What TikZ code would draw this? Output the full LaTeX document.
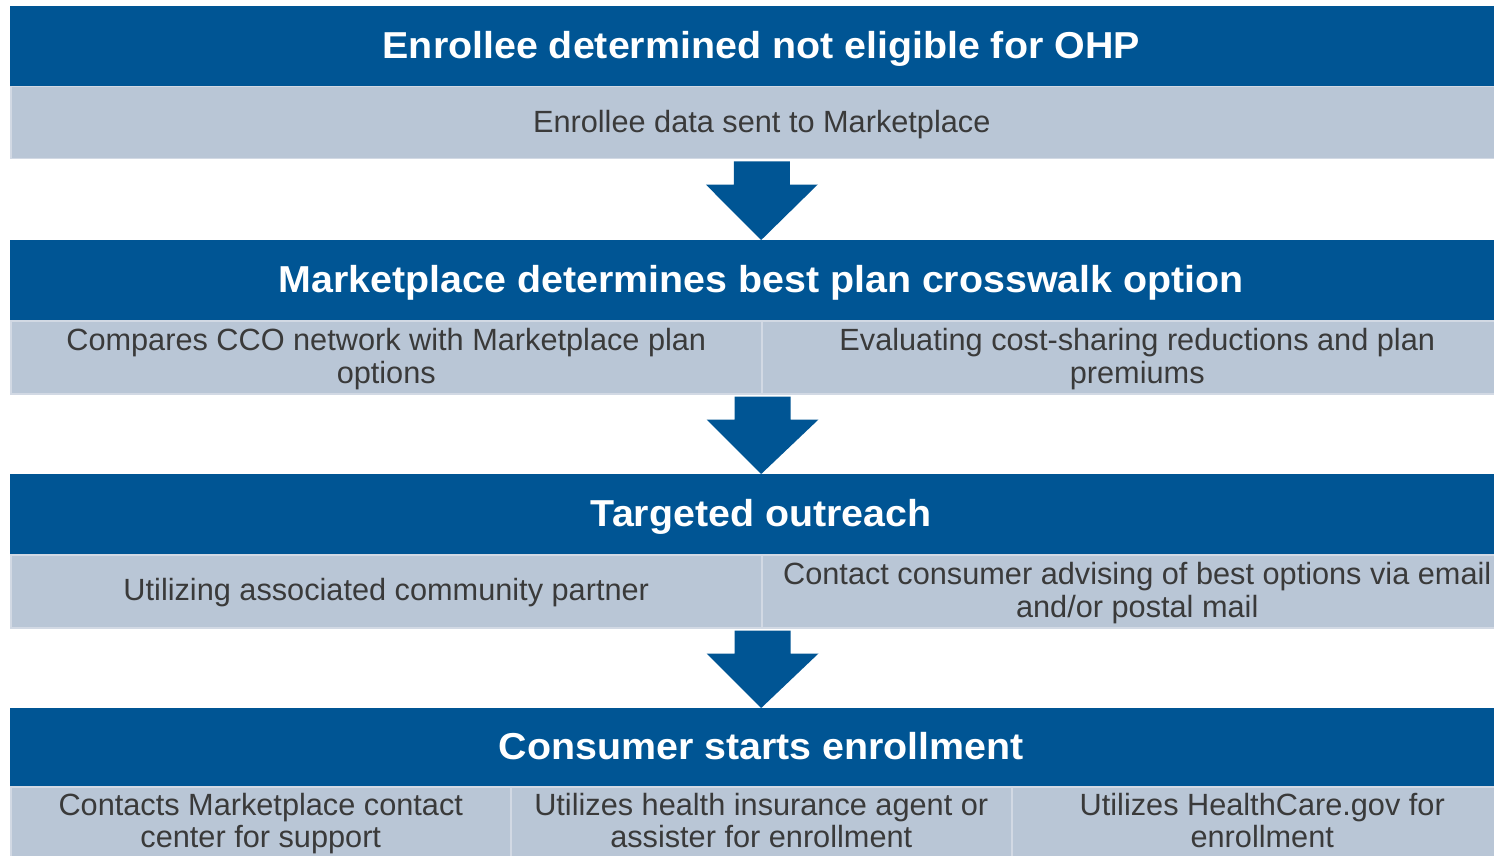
\documentclass[tikz,border=0pt]{standalone}
\usepackage{fontspec}
\setmainfont{Liberation Sans}
\newfontfamily\titlefont[FakeStretch=1.05,BoldFont={Liberation Sans Bold}]{Liberation Sans}
\usetikzlibrary{calc}
\definecolor{ohpblue}{RGB}{0,85,148}
\definecolor{ohplight}{RGB}{185,198,214}
\definecolor{ohpedge}{RGB}{210,217,228}
\definecolor{ohptext}{RGB}{58,58,58}
\tikzset{
  headbar/.style={fill=ohpblue, draw=none, minimum height=#1, minimum width=1502pt,
    inner sep=0pt, text height=27.5pt, text depth=3pt, text=white,
    font=\titlefont\fontsize{37.5}{42}\selectfont\bfseries, anchor=north west},
  cellbox/.style 2 args={fill=ohplight, draw=ohpedge, line width=1.5pt, minimum width=#1,
    minimum height=#2, inner sep=0pt, anchor=north west},
  celltext/.style={yshift=-3.2pt, text=ohptext, font=\fontsize{30.7}{32.5}\selectfont, align=center},
  arrowfill/.style={fill=ohpblue}
}
\newcommand{\flowarrow}[2]{%
  \fill[arrowfill] ($(#1)+(-28,2)$) -- ($(#1)+(28,2)$) -- ($(#1)+(28,25)$) -- ($(#1)+(56,25)$)
    -- (#2) -- ($(#1)+(-56,25)$) -- ($(#1)+(-28,25)$) -- cycle;}
\newcommand{\cellline}[1]{\strut #1\strut}
\begin{document}
\begin{tikzpicture}[x=1pt,y=-1pt]
\useasboundingbox (0,0) rectangle (1494,856);
\clip (0,0) rectangle (1494,856);
% row 1
\node[headbar=80pt] (t1) at (10,6) {Enrollee determined not eligible for OHP};
\node[cellbox={1502pt}{72pt}] (l1) at (10,86) {};
\node[celltext] (l1t) at (l1.center) {\cellline{Enrollee data sent to Marketplace}};
% row 2
\node[headbar=80pt] (t2) at (10,240) {Marketplace determines best plan crosswalk option};
\node[cellbox={751pt}{73pt}] (l2a) at (10,320) {};
\node[cellbox={751pt}{73pt}] (l2b) at (761,320) {};
\node[celltext] (l2at) at (l2a.center) {\cellline{Compares CCO network with Marketplace plan}\\\cellline{options}};
\node[celltext] (l2bt) at (l2b.center) {\cellline{Evaluating cost-sharing reductions and plan}\\\cellline{premiums}};
% row 3
\node[headbar=80pt] (t3) at (10,474) {Targeted outreach};
\node[cellbox={751pt}{73pt}] (l3a) at (10,554) {};
\node[cellbox={751pt}{73pt}] (l3b) at (761,554) {};
\node[celltext] (l3at) at (l3a.center) {\cellline{Utilizing associated community partner}};
\node[celltext] (l3bt) at (l3b.center) {\cellline{Contact consumer advising of best options via email}\\\cellline{and/or postal mail}};
% row 4
\node[headbar=78pt] (t4) at (10,708) {Consumer starts enrollment};
\node[cellbox={500pt}{70pt}] (l4a) at (10,786) {};
\node[cellbox={501pt}{70pt}] (l4b) at (510,786) {};
\node[cellbox={501pt}{70pt}] (l4c) at (1011,786) {};
\node[celltext] (l4at) at (l4a.center) {\cellline{Contacts Marketplace contact}\\\cellline{center for support}};
\node[celltext] (l4bt) at (l4b.center) {\cellline{Utilizes health insurance agent or}\\\cellline{assister for enrollment}};
\node[celltext] (l4ct) at (l4c.center) {\cellline{Utilizes HealthCare.gov for}\\\cellline{enrollment}};
% arrows
\flowarrow{l1.south}{t2.north}
\flowarrow{l2a.south east}{t3.north}
\flowarrow{l3a.south east}{t4.north}
\end{tikzpicture}
\end{document}
